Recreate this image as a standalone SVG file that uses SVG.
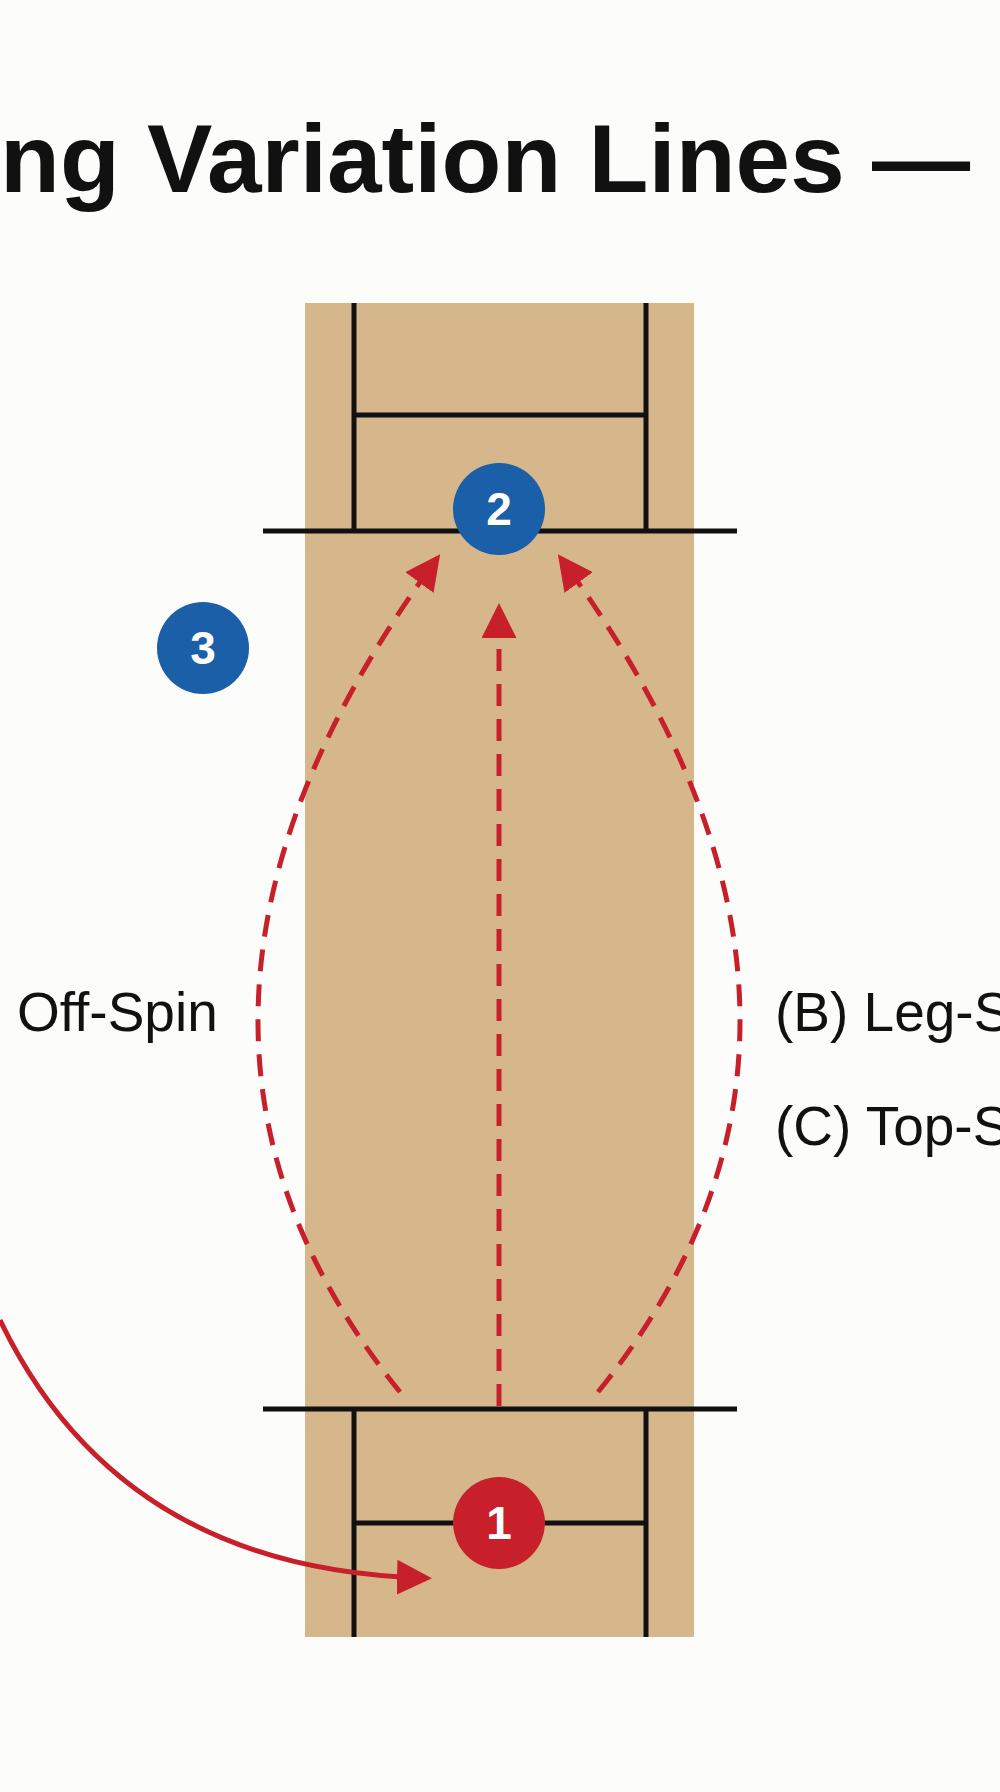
<svg xmlns="http://www.w3.org/2000/svg" width="1000" height="1792" viewBox="0 0 1000 1792">
<defs>
<style>
.ln{stroke:#111;stroke-width:5;fill:none}
.dash{stroke:#c8202a;stroke-width:5;fill:none;stroke-dasharray:22 13}
.lbl{font-family:"Liberation Sans",Arial,sans-serif;font-size:55px;fill:#111}
.num{font-family:"Liberation Sans",Arial,sans-serif;font-size:46px;font-weight:bold;fill:#fff;text-anchor:middle}
</style>
<marker id="ah" viewBox="0 0 10 10" refX="8" refY="5" markerWidth="7" markerHeight="7" orient="auto" markerUnits="strokeWidth"><path d="M0,0 L10,5 L0,10 z" fill="#c8202a"/></marker>
</defs>
<rect width="1000" height="1792" fill="#fcfcfb"/>
<text x="0" y="192" font-family="Liberation Sans,Arial,sans-serif" font-size="96" font-weight="bold" fill="#111" textLength="970" lengthAdjust="spacingAndGlyphs">ng Variation Lines —</text>
<g id="pitch">
<rect x="305" y="303" width="389" height="1334" fill="#d6b78c"/>
<path class="ln" d="M354 303V531M646 303V531M354 415H646M263 531H737M263 1409H737M354 1409V1637M646 1409V1637M354 1523H646"/>
</g>
<g id="connectors">
<path class="dash" d="M499 1406V610" marker-end="url(#ah)"/>
<path class="dash" d="M400 1392Q99 1019 436 560" marker-end="url(#ah)"/>
<path class="dash" d="M598 1392Q899 1019 562 560" marker-end="url(#ah)"/>
<path d="M0 1320Q120 1570 425 1578" stroke="#c8202a" stroke-width="5" fill="none" marker-end="url(#ah)"/>
</g>
<g id="n2"><circle cx="499" cy="509" r="46" fill="#1a5fa8"/><text class="num" x="499" y="525">2</text></g>
<g id="n3"><circle cx="203" cy="648" r="46" fill="#1a5fa8"/><text class="num" x="203" y="664">3</text></g>
<g id="n1"><circle cx="499" cy="1523" r="46" fill="#c8202a"/><text class="num" x="499" y="1539">1</text></g>
<text class="lbl" x="17" y="1031">Off-Spin</text>
<text class="lbl" x="775" y="1031">(B) Leg-S</text>
<text class="lbl" x="775" y="1145">(C) Top-S</text>
</svg>
